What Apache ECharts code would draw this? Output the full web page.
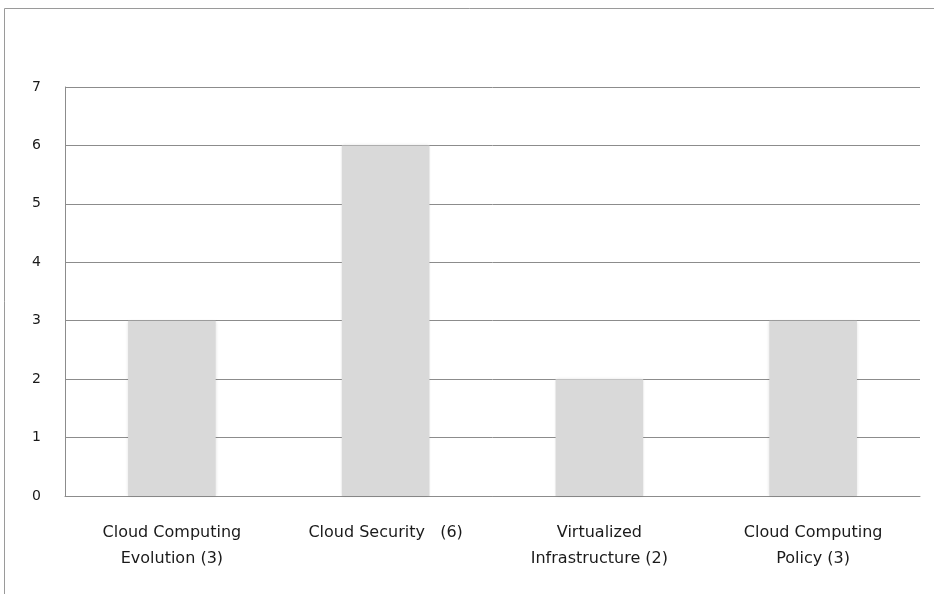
<!DOCTYPE html>
<html>
<head>
<meta charset="utf-8">
<script src="https://cdn.jsdelivr.net/npm/echarts@6/dist/echarts.min.js"></script>
<style>
  html, body { margin: 0; padding: 0; background: #fff; }
  #main { width: 934px; height: 594px; }
</style>
</head>
<body>
<div id="main"></div>
<script>
const categories = ['Cloud Computing\nEvolution (3)', 'Cloud Security   (6)', 'Virtualized\nInfrastructure (2)', 'Cloud Computing\nPolicy (3)'];
const values = [3, 6, 2, 3];
const yTicks = { min: 0, max: 7, interval: 1 };

let myChart = echarts.init(document.getElementById('main'));
myChart.setOption({
  animation: false,
  backgroundColor: '#fff',
  textStyle: { fontFamily: 'DejaVu Sans, sans-serif' },
  graphic: [
    { type: 'line', shape: { x1: 4.5, y1: 8.5, x2: 934, y2: 8.5 }, style: { stroke: '#9a9a9a', lineWidth: 1 } },
    { type: 'line', shape: { x1: 4.5, y1: 8.5, x2: 4.5, y2: 594 }, style: { stroke: '#9a9a9a', lineWidth: 1 } }
  ],
  grid: { left: 65, right: 14, top: 87, bottom: 98 },
  xAxis: {
    type: 'category',
    data: categories,
    axisTick: { show: false },
    axisLine: { lineStyle: { color: '#8c8c8c', width: 1 } },
    axisLabel: { color: '#1a1a1a', fontSize: 16, lineHeight: 26, margin: 24, interval: 0 }
  },
  yAxis: {
    type: 'value',
    min: yTicks.min,
    max: yTicks.max,
    interval: yTicks.interval,
    axisLine: { show: true, lineStyle: { color: '#8c8c8c', width: 1 } },
    axisTick: { show: false },
    axisLabel: { color: '#1a1a1a', fontSize: 14, margin: 24 },
    splitLine: { lineStyle: { color: '#8c8c8c', width: 1 } }
  },
  series: [
    {
      type: 'bar',
      data: values,
      barWidth: '41%',
      itemStyle: { color: '#d9d9d9', shadowColor: 'rgba(0,0,0,0.12)', shadowBlur: 3 }
    }
  ]
});
</script>
</body>
</html>
